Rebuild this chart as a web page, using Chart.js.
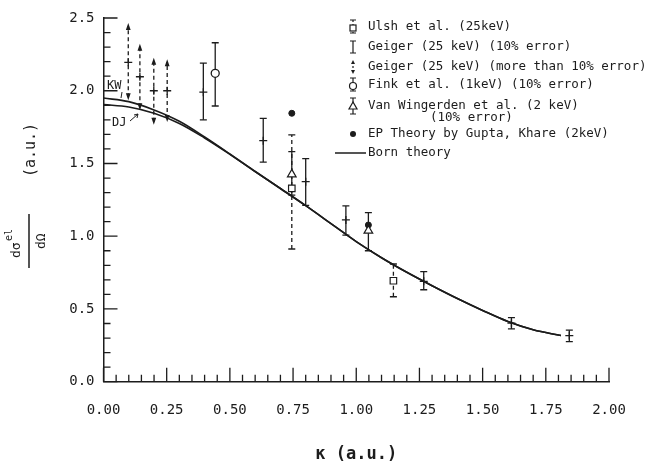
<!DOCTYPE html>
<html>
<head>
<meta charset="utf-8">
<script src="https://cdn.jsdelivr.net/npm/chart.js@4.4.0/dist/chart.umd.min.js"></script>
<style>
html, body { margin: 0; padding: 0; background: #fff; }
</style>
</head>
<body>
<canvas id="chart" width="654" height="468"></canvas>
<script>
// Born theory (KW = upper curve, DJ = lower curve, they join near 0.45)
var bornK  = [0, 0.1, 0.2, 0.3, 0.4, 0.5, 0.6, 0.7, 0.8, 0.9, 1.0, 1.1, 1.2, 1.3, 1.4, 1.5, 1.6, 1.7, 1.81];
var bornKW = [1.95, 1.925, 1.868, 1.79, 1.682, 1.565, 1.445, 1.328, 1.21, 1.087, 0.963, 0.852, 0.752, 0.66, 0.572, 0.49, 0.414, 0.357, 0.317];
var bornDJ = [1.905, 1.888, 1.845, 1.775, 1.675, 1.563, 1.445, 1.328, 1.21, 1.087, 0.963, 0.852, 0.752, 0.66, 0.572, 0.49, 0.414, 0.357, 0.317];

// Geiger (25 keV) (10% error)
var geigerK  = [0.395, 0.632, 0.80, 0.959, 1.267, 1.614, 1.843];
var geigerY  = [1.99, 1.657, 1.375, 1.112, 0.69, 0.402, 0.317];
var geigerLo = [1.80, 1.51, 1.212, 1.007, 0.632, 0.363, 0.276];
var geigerHi = [2.19, 1.81, 1.534, 1.208, 0.756, 0.44, 0.354];

// Geiger (25 keV) (more than 10% error)
var geiger2K  = [0.098, 0.144, 0.199, 0.252];
var geiger2Y  = [2.195, 2.096, 2.0, 2.0];
var geiger2Lo = [1.955, 1.886, 1.787, 1.805];
var geiger2Hi = [2.445, 2.302, 2.206, 2.195];

// Ulsh et al. (25 keV)
var ulshK  = [0.745, 1.147];
var ulshY  = [1.329, 0.694];
var ulshLo = [0.912, 0.584];
var ulshHi = [1.696, 0.809];

// Fink et al. (1 keV)
var finkK  = [0.442];
var finkY  = [2.12];
var finkLo = [1.895];
var finkHi = [2.33];

// Van Wingerden et al. (2 keV)
var vanK  = [0.745, 1.048];
var vanY  = [1.425, 1.038];
var vanLo = [1.283, 0.90];
var vanHi = [1.581, 1.162];

// EP theory, Gupta & Khare (2 keV)
var epK = [0.745, 1.048];
var epY = [1.845, 1.077];

var xTicks = [0, 2, 0.25];
var yTicks = [0, 2.5, 0.5];

var legendLabels = [
    'Ulsh et al. (25keV)',
    'Geiger (25 keV) (10% error)',
    'Geiger (25 keV) (more than 10% error)',
    'Fink et al. (1keV) (10% error)',
    'Van Wingerden et al. (2 keV)',
    'EP Theory by Gupta, Khare (2keV)',
    'Born theory'
];

var ink = '#1c1c1c';
var mono = '"DejaVu Sans Mono", "Liberation Mono", monospace';

function pts(xs, ys) {
    return xs.map(function (x, i) { return { x: x, y: ys[i] }; });
}

// error bars, drawn under the markers
var errorBars = {
    id: 'errorBars',
    beforeDatasetsDraw: function (chart) {
        var ctx = chart.ctx, ys = chart.scales.y;
        chart.data.datasets.forEach(function (ds, i) {
            if (!ds.errLo) return;
            var meta = chart.getDatasetMeta(i);
            meta.data.forEach(function (el, j) {
                var x = el.x;
                var yLo = ys.getPixelForValue(ds.errLo[j]);
                var yHi = ys.getPixelForValue(ds.errHi[j]);
                ctx.save();
                ctx.strokeStyle = ink;
                ctx.fillStyle = ink;
                ctx.lineWidth = 1.3;
                ctx.setLineDash(ds.errDash || []);
                ctx.beginPath();
                ctx.moveTo(x, yLo);
                ctx.lineTo(x, yHi);
                ctx.stroke();
                ctx.setLineDash([]);
                if (ds.errArrow) {
                    ctx.beginPath();
                    ctx.moveTo(x, yHi - 3);
                    ctx.lineTo(x - 2.4, yHi + 4);
                    ctx.lineTo(x + 2.4, yHi + 4);
                    ctx.closePath();
                    ctx.moveTo(x, yLo + 3);
                    ctx.lineTo(x - 2.4, yLo - 4);
                    ctx.lineTo(x + 2.4, yLo - 4);
                    ctx.closePath();
                    ctx.fill();
                } else {
                    ctx.beginPath();
                    ctx.moveTo(x - 3.5, yLo); ctx.lineTo(x + 3.5, yLo);
                    ctx.moveTo(x - 3.5, yHi); ctx.lineTo(x + 3.5, yHi);
                    ctx.stroke();
                }
                ctx.restore();
            });
        });
    }
};

// inward ticks, axis labels, legend
var decorations = {
    id: 'decorations',
    afterDraw: function (chart) {
        var ctx = chart.ctx, xs = chart.scales.x, ys = chart.scales.y;
        var a = chart.chartArea;
        ctx.save();
        ctx.strokeStyle = ink;
        ctx.fillStyle = ink;
        ctx.lineWidth = 1.3;

        // minor and major ticks pointing into the plot
        ctx.beginPath();
        for (var i = 0; i <= 40; i++) {
            var px = xs.getPixelForValue(i * 0.05);
            var len = i % 5 === 0 ? 14 : 7;
            ctx.moveTo(px, a.bottom); ctx.lineTo(px, a.bottom - len);
        }
        for (var k = 0; k <= 25; k++) {
            var py = ys.getPixelForValue(k * 0.1);
            var len2 = k % 5 === 0 ? 14 : 7;
            ctx.moveTo(a.left, py); ctx.lineTo(a.left + len2, py);
        }
        ctx.stroke();

        // KW / DJ labels
        ctx.font = '12px ' + mono;
        ctx.textBaseline = 'middle';
        ctx.textAlign = 'left';
        ctx.fillText('KW', 107, 86);
        ctx.fillText('DJ', 112, 123);
        ctx.lineWidth = 1;
        ctx.beginPath();
        ctx.moveTo(122, 92); ctx.lineTo(121, 98);
        ctx.moveTo(130, 121); ctx.lineTo(138, 114);
        ctx.moveTo(138, 114); ctx.lineTo(134, 115);
        ctx.moveTo(138, 114); ctx.lineTo(137, 118);
        ctx.stroke();

        // y title: d sigma^el / d Omega (a.u.), rotated
        ctx.save();
        ctx.translate(29, 241);
        ctx.rotate(-Math.PI / 2);
        ctx.lineWidth = 1.5;
        ctx.beginPath();
        ctx.moveTo(-27, 0); ctx.lineTo(27, 0);
        ctx.stroke();
        ctx.textAlign = 'left';
        ctx.textBaseline = 'alphabetic';
        ctx.font = '13px ' + mono;
        ctx.fillText('d\u03c3', -17, -9);
        ctx.font = '10px ' + mono;
        ctx.fillText('el', 0, -17);
        ctx.font = '13px ' + mono;
        ctx.fillText('d\u03a9', -8, 16);
        ctx.font = '15px ' + mono;
        ctx.textAlign = 'center';
        ctx.textBaseline = 'middle';
        ctx.fillText('(a.u.)', 91, 2);
        ctx.restore();

        // legend
        var sx = 353, tx = 368;
        var rows = [27, 47, 67, 85, 106, 134, 153];
        ctx.font = '12.5px ' + mono;
        ctx.textAlign = 'left';
        ctx.textBaseline = 'middle';
        legendLabels.forEach(function (t, n) {
            ctx.fillText(t, tx, rows[n]);
        });
        ctx.fillText('(10% error)', 430, 118);

        ctx.lineWidth = 1.2;
        function bar(y0, y1, dash, caps) {
            ctx.setLineDash(dash);
            ctx.beginPath();
            ctx.moveTo(sx, y0); ctx.lineTo(sx, y1);
            ctx.stroke();
            ctx.setLineDash([]);
            if (caps) {
                ctx.beginPath();
                ctx.moveTo(sx - 3, y0); ctx.lineTo(sx + 3, y0);
                ctx.moveTo(sx - 3, y1); ctx.lineTo(sx + 3, y1);
                ctx.stroke();
            }
        }
        // Ulsh
        bar(rows[0] - 7, rows[0] + 6, [2, 2], true);
        ctx.fillStyle = '#fff';
        ctx.fillRect(sx - 3, rows[0] - 2, 6, 6);
        ctx.strokeRect(sx - 3, rows[0] - 2, 6, 6);
        ctx.fillStyle = ink;
        // Geiger 10%
        bar(rows[1] - 6, rows[1] + 6, [], true);
        // Geiger > 10%
        bar(rows[2] - 5, rows[2] + 5, [2, 2], false);
        ctx.beginPath();
        ctx.moveTo(sx, rows[2] - 7); ctx.lineTo(sx - 2, rows[2] - 3); ctx.lineTo(sx + 2, rows[2] - 3); ctx.closePath();
        ctx.moveTo(sx, rows[2] + 7); ctx.lineTo(sx - 2, rows[2] + 3); ctx.lineTo(sx + 2, rows[2] + 3); ctx.closePath();
        ctx.fill();
        // Fink
        bar(rows[3] - 7, rows[3] + 6, [], true);
        ctx.beginPath();
        ctx.arc(sx, rows[3] + 1, 3.5, 0, Math.PI * 2);
        ctx.fillStyle = '#fff'; ctx.fill(); ctx.stroke();
        ctx.fillStyle = ink;
        // Van Wingerden
        bar(rows[4] - 8, rows[4] + 8, [], true);
        ctx.beginPath();
        ctx.moveTo(sx, rows[4] - 4); ctx.lineTo(sx - 4, rows[4] + 3); ctx.lineTo(sx + 4, rows[4] + 3); ctx.closePath();
        ctx.fillStyle = '#fff'; ctx.fill(); ctx.stroke();
        ctx.fillStyle = ink;
        // EP
        ctx.beginPath();
        ctx.arc(sx, rows[5], 3, 0, Math.PI * 2);
        ctx.fill();
        // Born
        ctx.lineWidth = 1.5;
        ctx.beginPath();
        ctx.moveTo(335, rows[6]); ctx.lineTo(366, rows[6]);
        ctx.stroke();
        ctx.restore();
    }
};

var lineStyle = {
    showLine: true, pointRadius: 0, borderColor: ink, borderWidth: 1.6,
    tension: 0.35, fill: false
};

new Chart(document.getElementById('chart'), {
    type: 'scatter',
    data: {
        datasets: [
            Object.assign({ label: 'Born theory (KW)', data: pts(bornK, bornKW) }, lineStyle),
            Object.assign({ label: 'Born theory (DJ)', data: pts(bornK, bornDJ) }, lineStyle),
            {
                label: legendLabels[1], data: pts(geigerK, geigerY),
                errLo: geigerLo, errHi: geigerHi,
                pointStyle: 'cross', pointRadius: 4, borderColor: ink, borderWidth: 1.3
            },
            {
                label: legendLabels[2], data: pts(geiger2K, geiger2Y),
                errLo: geiger2Lo, errHi: geiger2Hi, errDash: [4, 3], errArrow: true,
                pointStyle: 'cross', pointRadius: 4, borderColor: ink, borderWidth: 1.3
            },
            {
                label: legendLabels[0], data: pts(ulshK, ulshY),
                errLo: ulshLo, errHi: ulshHi, errDash: [4, 3],
                pointStyle: 'rect', pointRadius: 4.6, borderColor: ink, borderWidth: 1.2,
                backgroundColor: '#fff'
            },
            {
                label: legendLabels[4], data: pts(vanK, vanY),
                errLo: vanLo, errHi: vanHi,
                pointStyle: 'triangle', pointRadius: 5, borderColor: ink, borderWidth: 1.2,
                backgroundColor: '#fff'
            },
            {
                label: legendLabels[3], data: pts(finkK, finkY),
                errLo: finkLo, errHi: finkHi,
                pointStyle: 'circle', pointRadius: 4, borderColor: ink, borderWidth: 1.3,
                backgroundColor: '#fff'
            },
            {
                label: legendLabels[5], data: pts(epK, epY),
                pointStyle: 'circle', pointRadius: 3, borderColor: ink, borderWidth: 1,
                backgroundColor: ink
            }
        ]
    },
    options: {
        responsive: false,
        animation: false,
        devicePixelRatio: 1,
        layout: { padding: { left: 0, top: 18, right: 45, bottom: 0 } },
        plugins: { legend: { display: false }, tooltip: { enabled: false } },
        scales: {
            x: {
                type: 'linear', min: xTicks[0], max: xTicks[1],
                afterFit: function (s) { s.height = 86.3; },
                grid: { display: false, drawTicks: false },
                border: { display: true, color: ink, width: 1.5 },
                ticks: {
                    stepSize: xTicks[2], color: ink, padding: 20,
                    font: { family: mono, size: 14 },
                    maxRotation: 0,
                    callback: function (v) { return v.toFixed(2); }
                },
                title: {
                    display: true, text: '\u03ba (a.u.)', color: ink,
                    font: { family: mono, size: 17, weight: 'bold' },
                    padding: { top: 0, bottom: 3 }
                }
            },
            y: {
                type: 'linear', min: yTicks[0], max: yTicks[1],
                afterFit: function (s) { s.width = 103.5; },
                grid: { display: false, drawTicks: false },
                border: { display: true, color: ink, width: 1.5 },
                ticks: {
                    stepSize: yTicks[2], color: ink, padding: 9,
                    font: { family: mono, size: 14 },
                    callback: function (v) { return v.toFixed(1); }
                }
            }
        }
    },
    plugins: [errorBars, decorations]
});
</script>
</body>
</html>
